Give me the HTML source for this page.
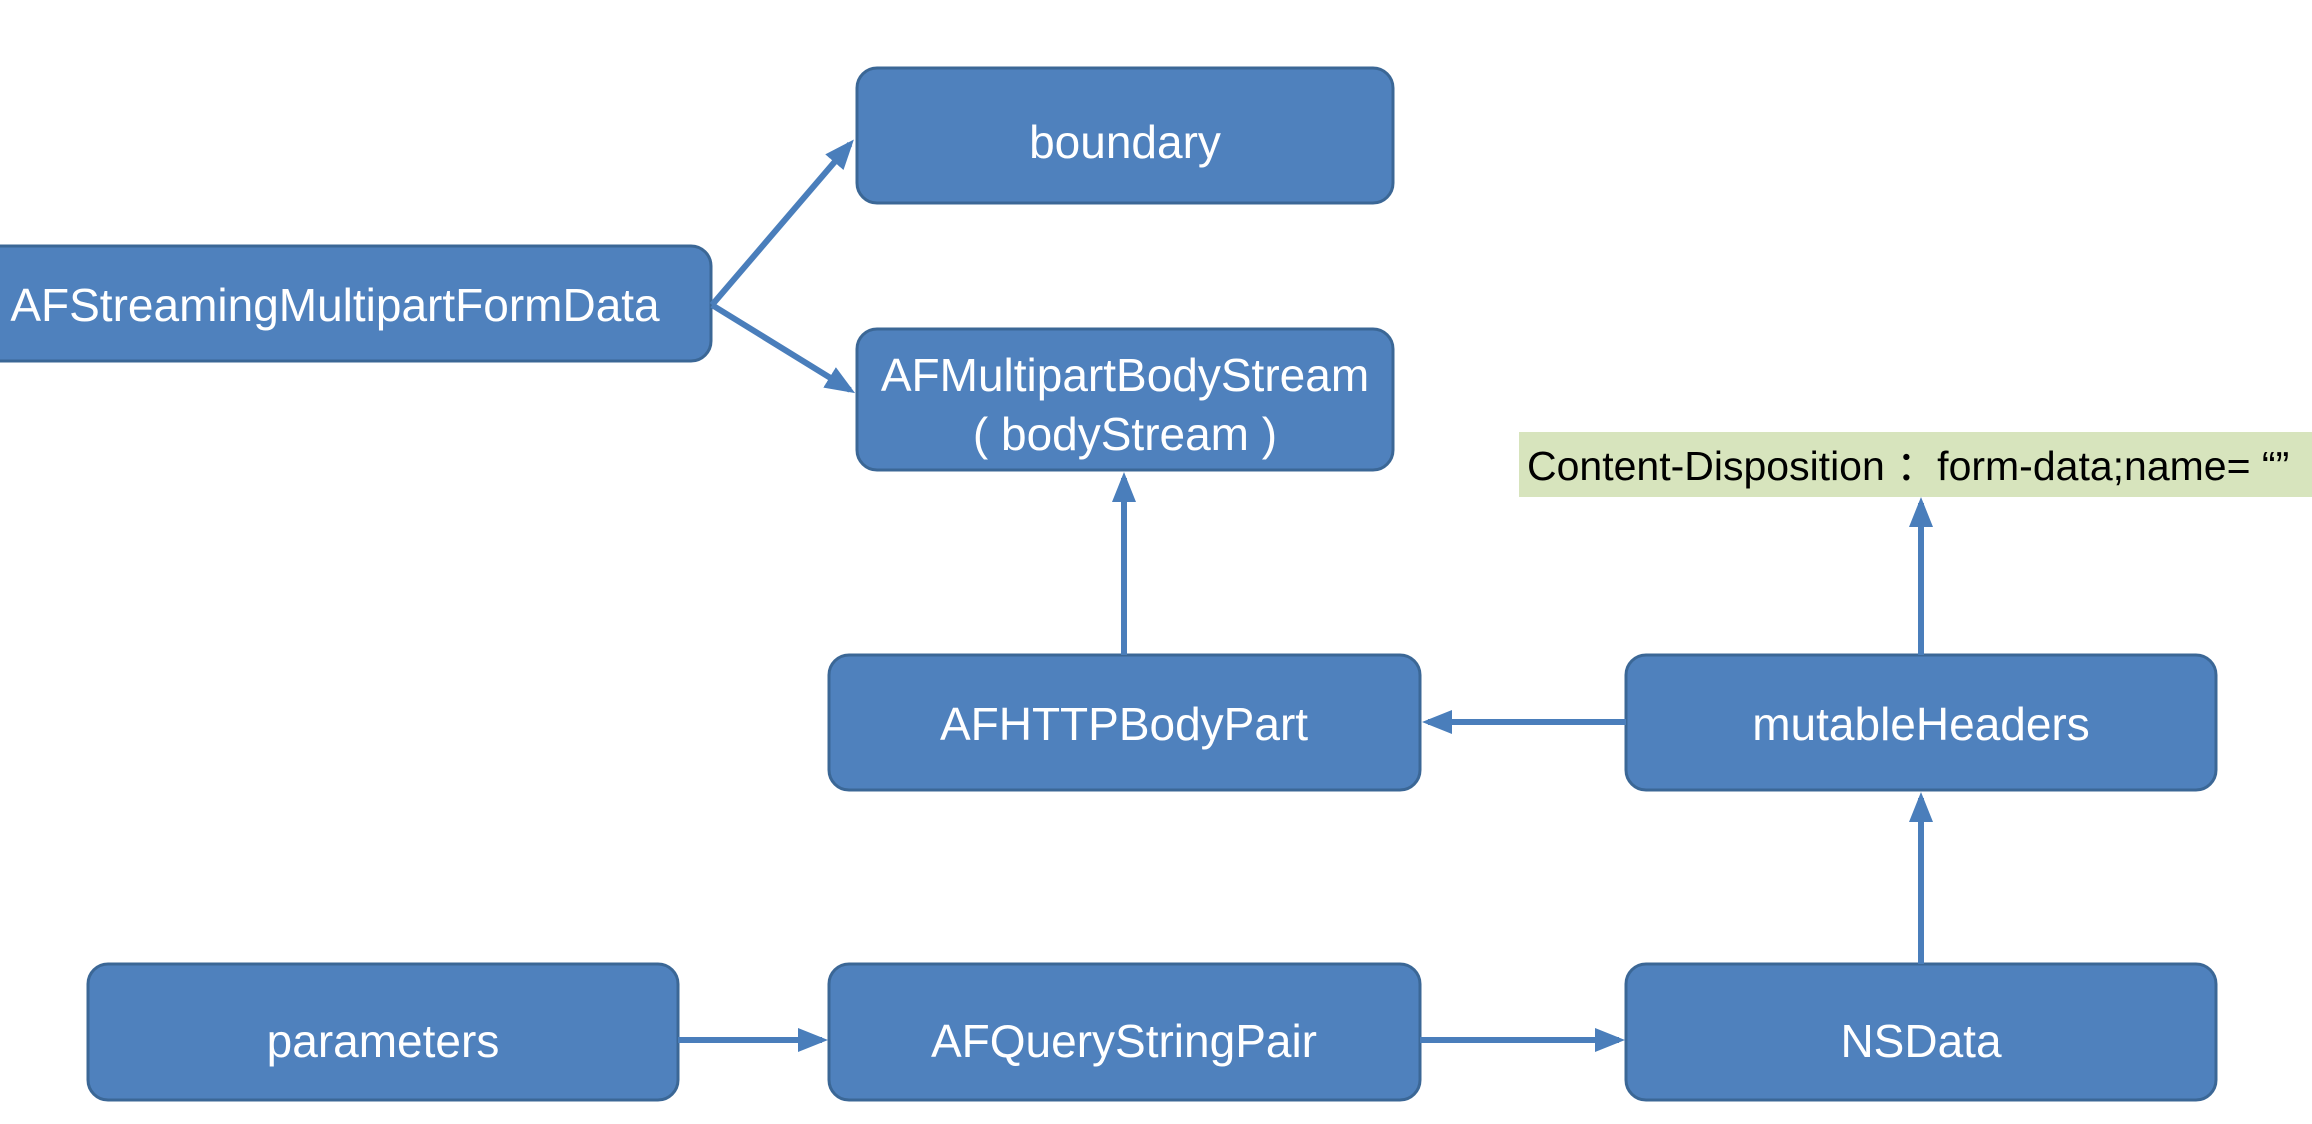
<!DOCTYPE html>
<html><head><meta charset="utf-8"><style>
html,body{margin:0;padding:0;background:#fff;}
svg{display:block;}
text{font-family:"Liberation Sans",sans-serif;}
</style></head><body>
<svg width="2312" height="1124" viewBox="0 0 2312 1124" xmlns="http://www.w3.org/2000/svg">
<defs>
<marker id="a" markerWidth="5" markerHeight="4" refX="4" refY="2" orient="auto" markerUnits="strokeWidth">
<path d="M0,0 L5,2 L0,4 Z" fill="#4A7EBB"/>
</marker>
</defs>
<rect width="2312" height="1124" fill="#fff"/>
<g fill="#4F81BD" stroke="#3B6796" stroke-width="3">
<rect x="857" y="68" width="536" height="135" rx="20"/>
<rect x="-20" y="246" width="731" height="115" rx="20"/>
<rect x="857" y="329" width="536" height="141" rx="20"/>
<rect x="829" y="655" width="591" height="135" rx="20"/>
<rect x="1626" y="655" width="590" height="135" rx="20"/>
<rect x="88" y="964" width="590" height="136" rx="20"/>
<rect x="829" y="964" width="591" height="136" rx="20"/>
<rect x="1626" y="964" width="590" height="136" rx="20"/>
</g>
<rect x="1519" y="432" width="793" height="65" fill="#D7E4BD"/>
<g stroke="#4A7EBB" stroke-width="6" fill="none" marker-end="url(#a)">
<line x1="712" y1="305" x2="850" y2="144"/>
<line x1="712" y1="305" x2="850" y2="390"/>
<line x1="1124" y1="655" x2="1124" y2="478"/>
<line x1="1626" y1="722" x2="1428" y2="722"/>
<line x1="1921" y1="655" x2="1921" y2="503"/>
<line x1="1921" y1="964" x2="1921" y2="798"/>
<line x1="678" y1="1040" x2="822" y2="1040"/>
<line x1="1420" y1="1040" x2="1619" y2="1040"/>
</g>
<g fill="#fff" font-size="46" text-anchor="middle">
<text x="1125" y="158">boundary</text>
<text x="335" y="321">AFStreamingMultipartFormData</text>
<text x="1125" y="391">AFMultipartBodyStream</text>
<text x="1125" y="450">( bodyStream )</text>
<text x="1124" y="740">AFHTTPBodyPart</text>
<text x="1921" y="740">mutableHeaders</text>
<text x="383" y="1057">parameters</text>
<text x="1124" y="1057">AFQueryStringPair</text>
<text x="1921" y="1057">NSData</text>
</g>
<text x="1527" y="480" font-size="41" fill="#000">Content-Disposition ：form-data;name= “”</text>
</svg>
</body></html>
